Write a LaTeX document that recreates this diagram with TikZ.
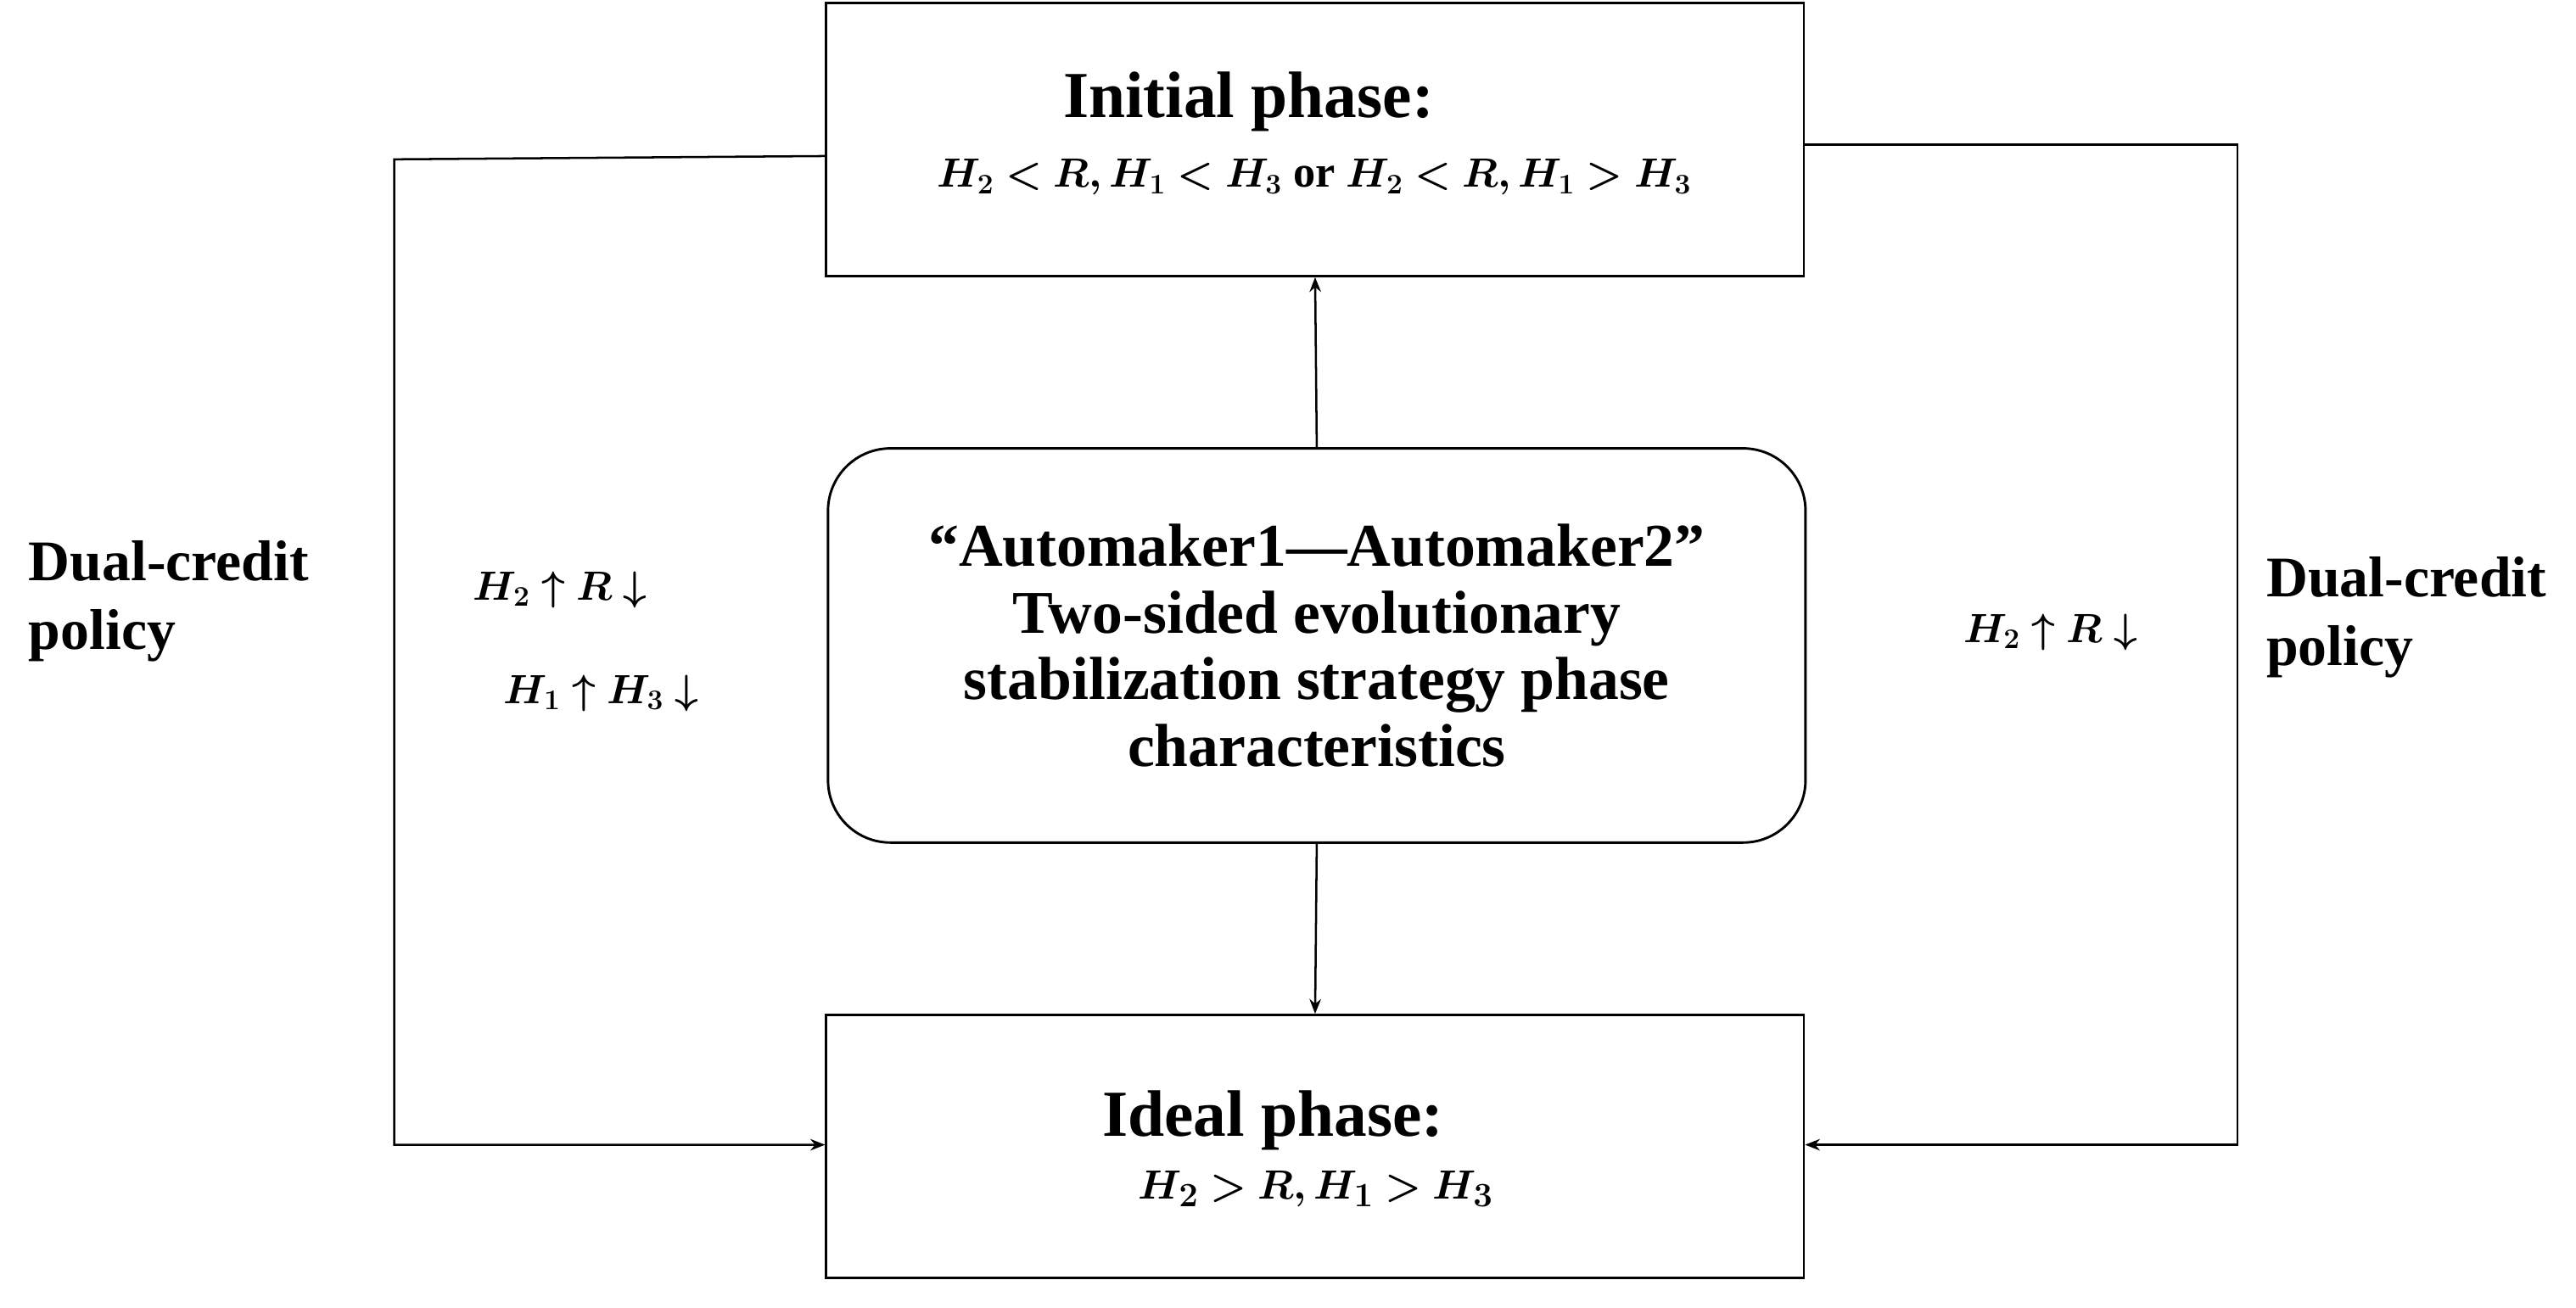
\documentclass[tikz,border=0pt]{standalone}
\usepackage{amsmath,bm}
\usepackage{fontspec}
\setmainfont{Liberation Serif}
\usetikzlibrary{arrows.meta}
\begin{document}
\begin{tikzpicture}[x=1pt,y=-1pt,
  box/.style={draw,line width=1.5pt,minimum width=595pt},
  con/.style={line width=1.3pt,-{Stealth[length=9pt,width=7pt]}},
  txt/.style={font=\bfseries,inner sep=0pt},
  lbl/.style={font=\fontsize{35}{42}\selectfont\bfseries,align=left,anchor=west}]
\useasboundingbox (0,0) rectangle (1568,796);
\node[box,minimum height=166pt] (top) at (800.5,85) {};
\node[txt,font=\fontsize{40}{40}\selectfont\bfseries] (t1) at (760,62) {Initial phase:};
\node[txt,font=\fontsize{27}{30}\selectfont] (t2) at (800,108) {$\bm{H_2<R, H_1<H_3}$ \textbf{or} $\bm{H_2<R, H_1>H_3}$};
\node[box,minimum height=240pt,rounded corners=38pt,align=center,font=\fontsize{37}{40.5}\selectfont\bfseries] (mid) at (801.5,393) {“Automaker1—Automaker2”\\Two-sided evolutionary\\stabilization strategy phase\\characteristics};
\node[box,minimum height=160pt] (bot) at (800.5,698) {};
\node[txt,font=\fontsize{40}{40}\selectfont\bfseries] (b1) at (775,682) {Ideal phase:};
\node[txt,font=\fontsize{32}{30}\selectfont] (b2) at (801,724) {$\bm{H_2>R, H_1>H_3}$};
\coordinate (l1) at (240,97); \coordinate (l2) at (240,697);
\coordinate (r1) at (1362,88); \coordinate (r2) at (1362,697);
\draw[con] (top.west |- 0,95) -- (l1) -- (l2) -- (bot.west |- l2);
\draw[con] (top.east |- r1) -- (r1) -- (r2) -- (bot.east |- r2);
\draw[con] (mid.north) -- (top.south);
\draw[con] (mid.south) -- (bot.north);
\node[lbl] (dl) at (14,366) {Dual-credit\\policy};
\node[lbl] (dr) at (1376,376) {Dual-credit\\policy};
\node[font=\fontsize{27}{30}\selectfont] (a1) at (341,359) {$\bm{H_2\uparrow R\downarrow}$};
\node[font=\fontsize{27}{30}\selectfont] (a2) at (366,422) {$\bm{H_1\uparrow H_3\downarrow}$};
\node[font=\fontsize{27}{30}\selectfont] (a3) at (1248,385) {$\bm{H_2\uparrow R\downarrow}$};
\end{tikzpicture}
\end{document}
